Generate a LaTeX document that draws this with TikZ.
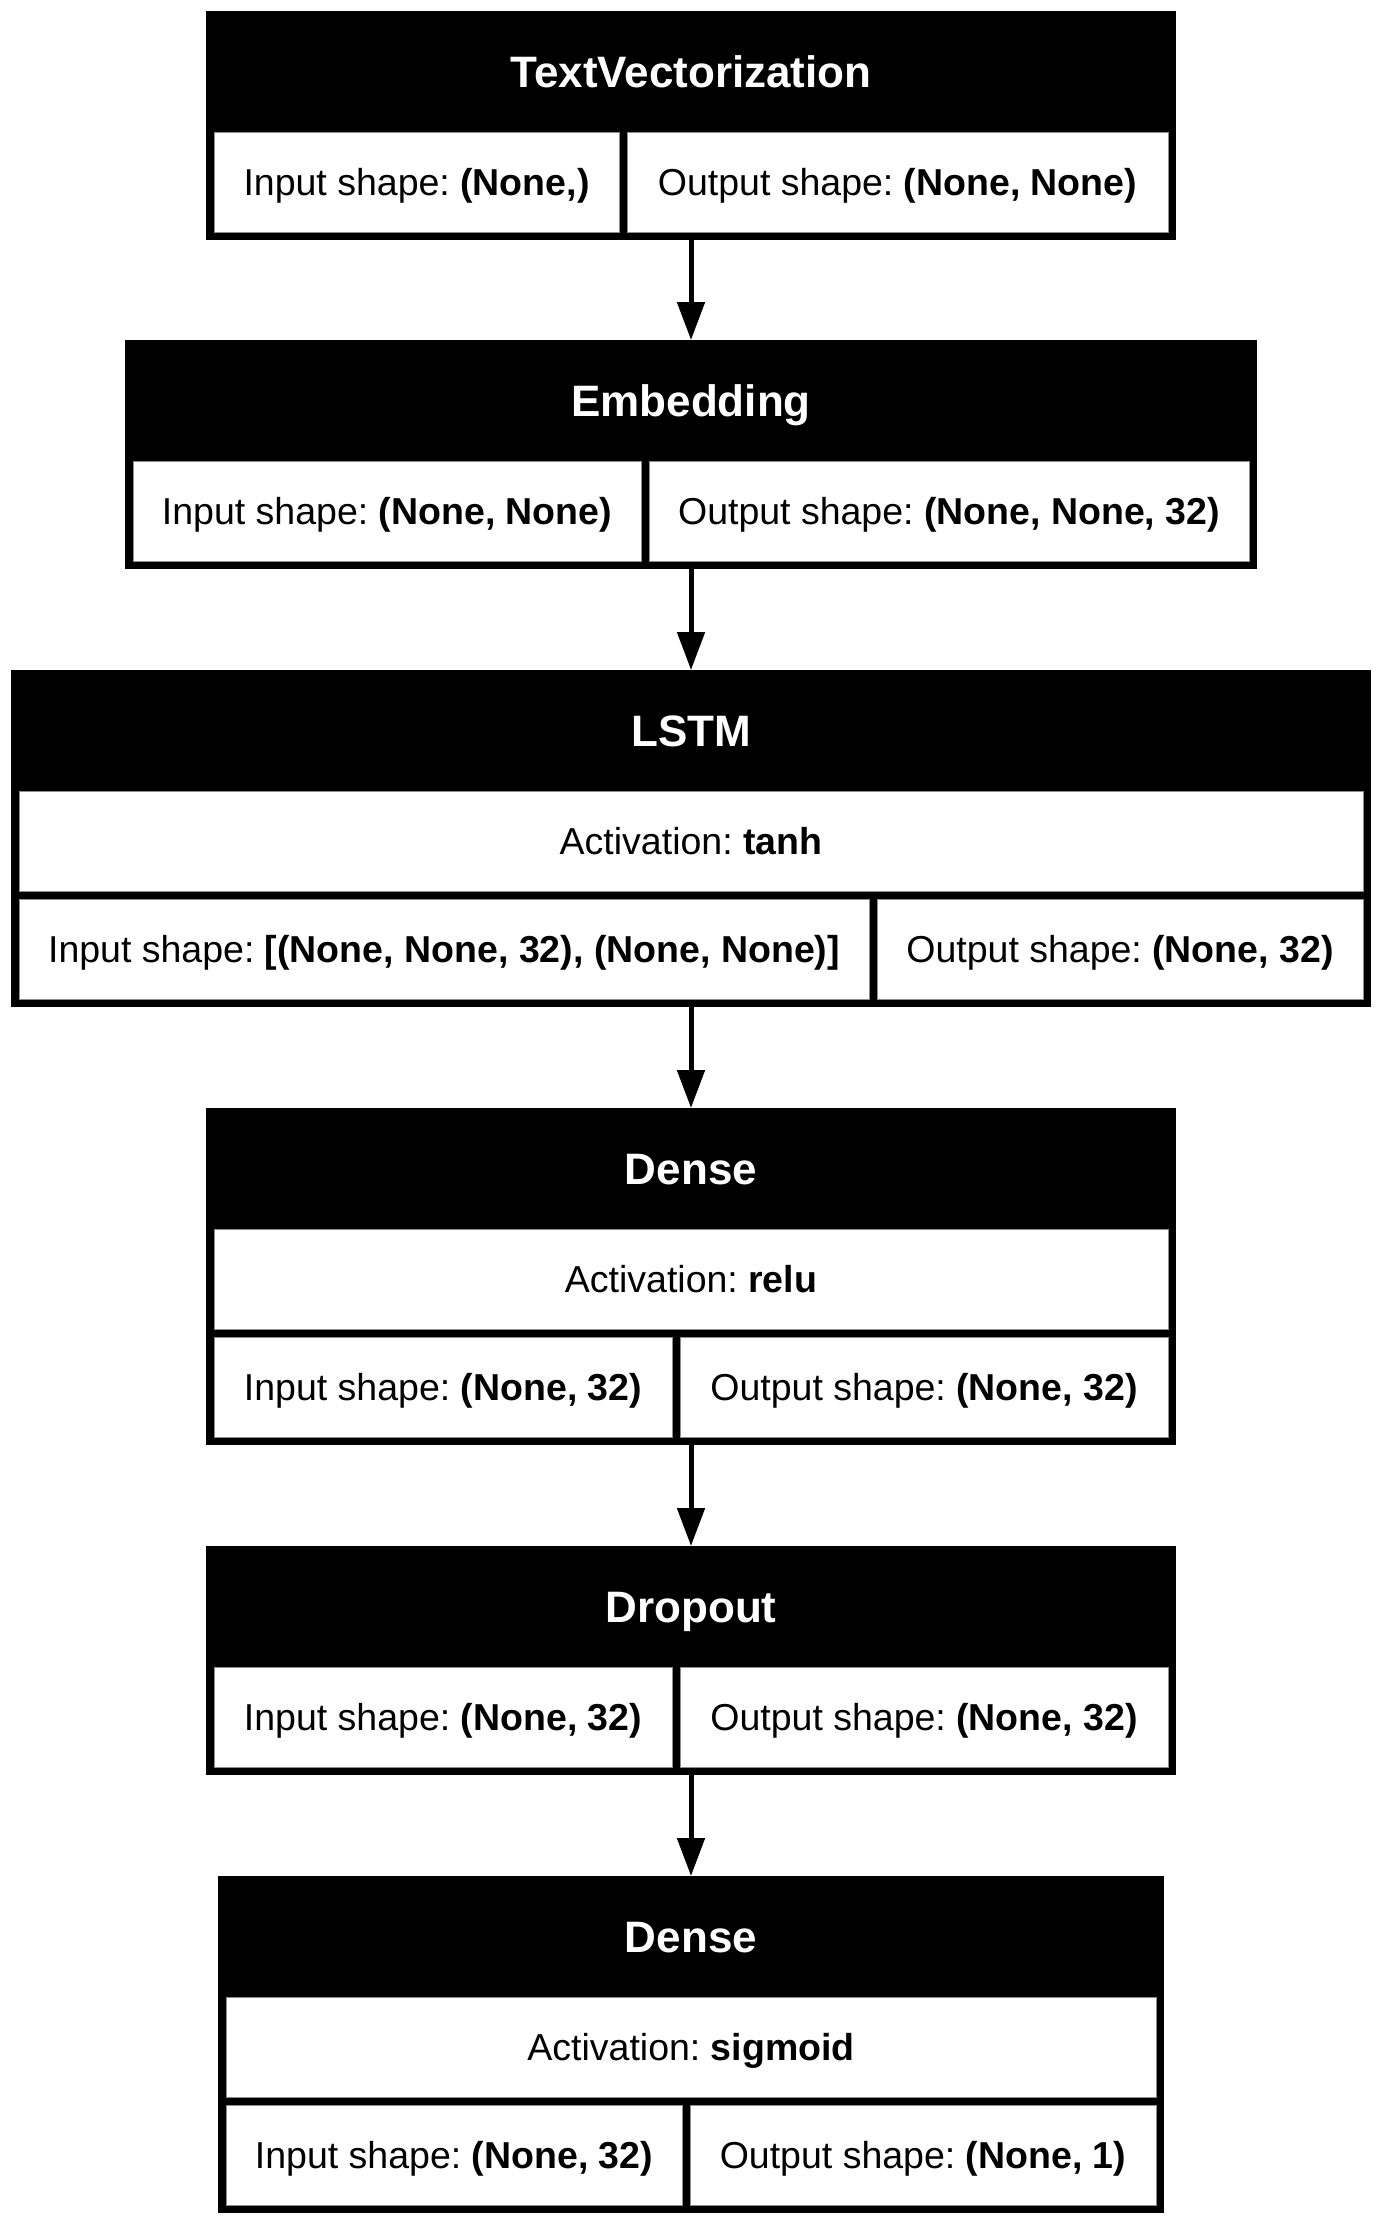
\documentclass[tikz,border=0pt]{standalone}
\usepackage{fontspec}
\setmainfont{Liberation Sans}
\frenchspacing
\usetikzlibrary{arrows.meta,fit}

\tikzset{
  layerframe/.style={fill=black, inner sep=0pt, outer sep=0pt},
  shapecell/.style={fill=white, draw=black!45, line width=0.4pt, inner sep=0pt, outer sep=0pt},
  headtext/.style={inner sep=0pt, text=white, text height=15.7pt, text depth=0pt,
    font=\fontsize{22pt}{26pt}\selectfont\bfseries},
  celltext/.style={inner sep=0pt, text height=13.4pt, text depth=0pt,
    font=\fontsize{18.75pt}{22pt}\selectfont},
  flow/.style={line width=2.5pt, -{Triangle[width=13.5pt,length=19pt]}}
}

\begin{document}
\begin{tikzpicture}[x=0.5pt, y=-0.5pt]

  \useasboundingbox (0,0) rectangle (1382,2222);

  % ============================================================
  % TextVectorization
  % ============================================================
  \node[layerframe, fit={(206,11) (1176,240)}] (tv) {};
  \node[shapecell, fit={(214,132) (619,232)}] (tvin) {};
  \node[shapecell, fit={(627,132) (1168,232)}] (tvout) {};
  \node[headtext] (tvhead) at (691,71.5) {TextVectorization};
  \node[celltext] (tvintext) at (tvin) {Input shape: \textbf{(None,)}};
  \node[celltext] (tvouttext) at (tvout) {Output shape: \textbf{(None, None)}};

  % ============================================================
  % Embedding
  % ============================================================
  \node[layerframe, fit={(125,340) (1257,569)}] (emb) {};
  \node[shapecell, fit={(133,461) (641,561)}] (embin) {};
  \node[shapecell, fit={(649,461) (1249,561)}] (embout) {};
  \node[headtext] (embhead) at (691,400.5) {Embedding};
  \node[celltext] (embintext) at (embin) {Input shape: \textbf{(None, None)}};
  \node[celltext] (embouttext) at (embout) {Output shape: \textbf{(None, None, 32)}};

  % ============================================================
  % LSTM
  % ============================================================
  \node[layerframe, fit={(11,670) (1371,1007)}] (lstm) {};
  \node[shapecell, fit={(19,791) (1363,891)}] (lstmact) {};
  \node[shapecell, fit={(19,899) (869,999)}] (lstmin) {};
  \node[shapecell, fit={(877,899) (1363,999)}] (lstmout) {};
  \node[headtext] (lstmhead) at (691,730.5) {LSTM};
  \node[celltext] (lstmacttext) at (lstmact) {Activation: \textbf{tanh}};
  \node[celltext] (lstmintext) at (lstmin) {Input shape: \textbf{[(None, None, 32), (None, None)]}};
  \node[celltext] (lstmouttext) at (lstmout) {Output shape: \textbf{(None, 32)}};

  % ============================================================
  % Dense (relu)
  % ============================================================
  \node[layerframe, fit={(206,1108) (1176,1445)}] (dense) {};
  \node[shapecell, fit={(214,1229) (1168,1329)}] (denseact) {};
  \node[shapecell, fit={(214,1337) (672,1437)}] (densein) {};
  \node[shapecell, fit={(680,1337) (1168,1437)}] (denseout) {};
  \node[headtext] (densehead) at (691,1168.5) {Dense};
  \node[celltext] (denseacttext) at (denseact) {Activation: \textbf{relu}};
  \node[celltext] (denseintext) at (densein) {Input shape: \textbf{(None, 32)}};
  \node[celltext] (denseouttext) at (denseout) {Output shape: \textbf{(None, 32)}};

  % ============================================================
  % Dropout
  % ============================================================
  \node[layerframe, fit={(206,1546) (1176,1775)}] (drop) {};
  \node[shapecell, fit={(214,1667) (672,1767)}] (dropin) {};
  \node[shapecell, fit={(680,1667) (1168,1767)}] (dropout) {};
  \node[headtext] (drophead) at (691,1606.5) {Dropout};
  \node[celltext] (dropintext) at (dropin) {Input shape: \textbf{(None, 32)}};
  \node[celltext] (dropouttext) at (dropout) {Output shape: \textbf{(None, 32)}};

  % ============================================================
  % Dense (sigmoid)
  % ============================================================
  \node[layerframe, fit={(218,1876) (1164,2213)}] (out) {};
  \node[shapecell, fit={(226,1997) (1156,2097)}] (outact) {};
  \node[shapecell, fit={(226,2105) (682,2205)}] (outin) {};
  \node[shapecell, fit={(690,2105) (1156,2205)}] (outout) {};
  \node[headtext] (outhead) at (691,1936.5) {Dense};
  \node[celltext] (outacttext) at (outact) {Activation: \textbf{sigmoid}};
  \node[celltext] (outintext) at (outin) {Input shape: \textbf{(None, 32)}};
  \node[celltext] (outouttext) at (outout) {Output shape: \textbf{(None, 1)}};

  % connectors
  \draw[flow] (tv.south) -- (emb.north);
  \draw[flow] (emb.south) -- (lstm.north);
  \draw[flow] (lstm.south) -- (dense.north);
  \draw[flow] (dense.south) -- (drop.north);
  \draw[flow] (drop.south) -- (out.north);

\end{tikzpicture}
\end{document}
